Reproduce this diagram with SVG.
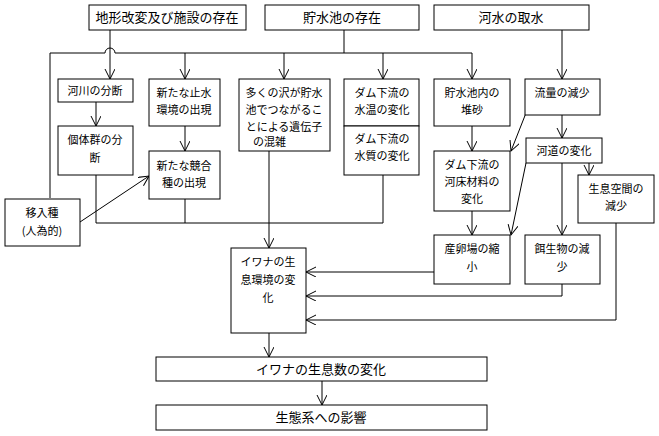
<svg xmlns="http://www.w3.org/2000/svg" width="659" height="436" viewBox="0 0 659 436">
<style>
rect{fill:#fff;stroke:#000;stroke-width:1}
text{font-family:"Noto Sans CJK JP","Noto Sans CJK SC",sans-serif;font-size:11px;fill:#000;text-anchor:middle}
.big{font-size:13px}
.c{fill:none;stroke:#000;stroke-width:1}
</style>
<defs><marker id="a" markerWidth="12" markerHeight="12" refX="10" refY="5" orient="auto" markerUnits="userSpaceOnUse"><path d="M0,0 L10,5 L0,10" fill="none" stroke="#000"/></marker></defs>
<rect width="659" height="436" style="stroke:none"/>
<g id="connectors">
<path class="c" d="M50,198 V53 H105 A5,5 0 0 1 115,53 H472 V79" marker-end="url(#a)"/>
<path class="c" d="M110,30 V79" marker-end="url(#a)"/>
<path class="c" d="M185,53 V79" marker-end="url(#a)"/>
<path class="c" d="M284,53 V79" marker-end="url(#a)"/>
<path class="c" d="M383,53 V79" marker-end="url(#a)"/>
<path class="c" d="M344,30 V53"/>
<path class="c" d="M96,102 V126" marker-end="url(#a)"/>
<path class="c" d="M185,126 V151" marker-end="url(#a)"/>
<path class="c" d="M96,175 V223 H383 V175"/>
<path class="c" d="M185,199 V223"/>
<path class="c" d="M269,151 V248" marker-end="url(#a)"/>
<path class="c" d="M80,222 L149,176" marker-end="url(#a)"/>
<path class="c" d="M562,30 V79" marker-end="url(#a)"/>
<path class="c" d="M562,115 V138" marker-end="url(#a)"/>
<path class="c" d="M526,113 L511,151" marker-end="url(#a)"/>
<path class="c" d="M526,163 L511,235" marker-end="url(#a)"/>
<path class="c" d="M562,163 V235" marker-end="url(#a)"/>
<path class="c" d="M589,163 V175" marker-end="url(#a)"/>
<path class="c" d="M472,126 V151" marker-end="url(#a)"/>
<path class="c" d="M472,211 V235" marker-end="url(#a)"/>
<path class="c" d="M434,272 H306" marker-end="url(#a)"/>
<path class="c" d="M562,284 V296 H306" marker-end="url(#a)"/>
<path class="c" d="M616,223 V320 H306" marker-end="url(#a)"/>
<path class="c" d="M269,333 V357" marker-end="url(#a)"/>
<path class="c" d="M322,381 V405" marker-end="url(#a)"/>
</g>
<g id="n1"><rect x="89" y="5" width="157" height="25"/><text class="big" x="167" y="22">地形改変及び施設の存在</text></g>
<g id="n2"><rect x="265" y="5" width="154" height="25"/><text class="big" x="342" y="22">貯水池の存在</text></g>
<g id="n3"><rect x="434" y="5" width="155" height="25"/><text class="big" x="511" y="22">河水の取水</text></g>
<g id="n4"><rect x="58" y="79" width="75" height="23"/><text x="95" y="95">河川の分断</text></g>
<g id="n5"><rect x="149" y="79" width="71" height="47"/><text x="184" y="97">新たな止水</text><text x="184" y="114">環境の出現</text></g>
<g id="n6"><rect x="239" y="79" width="91" height="72"/><text x="284" y="97">多くの沢が貯水</text><text x="284" y="114">池でつながるこ</text><text x="284" y="131">とによる遺伝子</text><text x="253" y="146" style="text-anchor:start">の混雑</text></g>
<g id="n7"><rect x="344" y="79" width="75" height="47"/><text x="382" y="97">ダム下流の</text><text x="382" y="114">水温の変化</text></g>
<g id="n8"><rect x="344" y="126" width="75" height="49"/><text x="382" y="143">ダム下流の</text><text x="382" y="160">水質の変化</text></g>
<g id="n9"><rect x="434" y="79" width="76" height="47"/><text x="472" y="97">貯水池内の</text><text x="472" y="114">堆砂</text></g>
<g id="n10"><rect x="525" y="79" width="75" height="36"/><text x="562" y="97">流量の減少</text></g>
<g id="n11"><rect x="58" y="126" width="75" height="49"/><text x="95" y="144">個体群の分</text><text x="95" y="162">断</text></g>
<g id="n12"><rect x="149" y="151" width="71" height="48"/><text x="184" y="170">新たな競合</text><text x="184" y="187">種の出現</text></g>
<g id="n13"><rect x="5" y="199" width="75" height="47"/><text x="42" y="217">移入種</text><text x="42" y="235">(人為的)</text></g>
<g id="n14"><rect x="526" y="138" width="76" height="25"/><text x="564" y="155">河道の変化</text></g>
<g id="n15"><rect x="434" y="151" width="76" height="60"/><text x="472" y="169">ダム下流の</text><text x="472" y="186">河床材料の</text><text x="472" y="203">変化</text></g>
<g id="n16"><rect x="578" y="175" width="76" height="48"/><text x="616" y="193">生息空間の</text><text x="616" y="210">減少</text></g>
<g id="n17"><rect x="434" y="235" width="76" height="49"/><text x="472" y="253">産卵場の縮</text><text x="472" y="271">小</text></g>
<g id="n18"><rect x="525" y="235" width="75" height="49"/><text x="562" y="253">餌生物の減</text><text x="562" y="271">少</text></g>
<g id="n19"><rect x="231" y="248" width="75" height="85"/><text x="268" y="266">イワナの生</text><text x="268" y="284">息環境の変</text><text x="268" y="302">化</text></g>
<g id="n20"><rect x="156" y="357" width="331" height="24"/><text class="big" x="321" y="374">イワナの生息数の変化</text></g>
<g id="n21"><rect x="156" y="405" width="331" height="25"/><text class="big" x="321" y="422">生態系への影響</text></g>
</svg>
